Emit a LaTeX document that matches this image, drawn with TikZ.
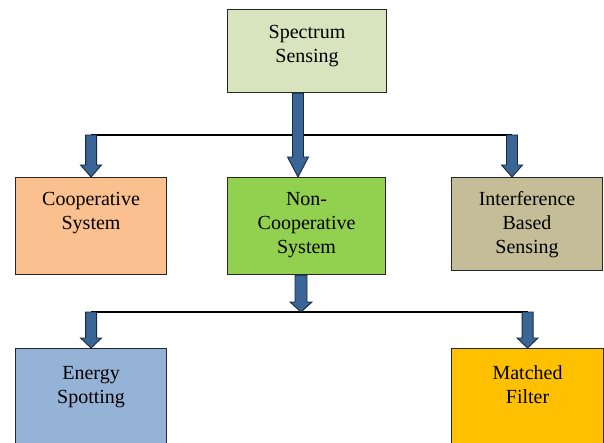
\documentclass[tikz,border=0pt]{standalone}
\usepackage{fontspec}
\setmainfont{Liberation Serif}
\usetikzlibrary{calc}
\definecolor{cSS}{HTML}{D7E4BD}
\definecolor{cCO}{HTML}{FAC090}
\definecolor{cNC}{HTML}{92D050}
\definecolor{cIB}{HTML}{C4BD97}
\definecolor{cES}{HTML}{95B3D7}
\definecolor{cMF}{HTML}{FFC000}
\definecolor{arrfill}{HTML}{3A6597}
\definecolor{arrline}{HTML}{1A2A3C}
\tikzset{
  box/.style={draw=black!85, line width=1.1pt, anchor=north west, inner sep=0pt},
  boxtext/.style={anchor=base, align=center, inner sep=0pt, font=\fontsize{20}{24}\selectfont},
  blockarr/.style={draw=arrline, fill=arrfill, line width=0.9pt, line join=miter},
  hline/.style={draw=black, line width=1.2pt}
}
\newcommand\blockarrow[5]{%
  \filldraw[blockarr] let \p1=(#1), \p2=(#2) in
    (\x1-#3,\y1) -- (\x1-#3,\y2+#5) -- (\x1-#4,\y2+#5) -- (\x2,\y2) --
    (\x1+#4,\y2+#5) -- (\x1+#3,\y2+#5) -- (\x1+#3,\y1) -- cycle;}
\begin{document}
\begin{tikzpicture}[x=1pt,y=-1pt]
\useasboundingbox (0,0) rectangle (604,443);
% boxes
\node[box, fill=cSS, minimum width=159pt, minimum height=83pt] (ss) at (227,9) {};
\node[box, fill=cCO, minimum width=151pt, minimum height=97pt] (co) at (15,177) {};
\node[box, fill=cNC, minimum width=158pt, minimum height=97pt] (nc) at (227,177) {};
\node[box, fill=cIB, minimum width=151pt, minimum height=93pt] (ib) at (451,177) {};
\node[box, fill=cES, minimum width=151pt, minimum height=105pt] (es) at (15,348) {};
\node[box, fill=cMF, minimum width=152pt, minimum height=105pt] (mf) at (451,348) {};
% texts (base = last line)
\node[boxtext] (tss) at ($(ss.north)+(0,54)$) {Spectrum\\Sensing};
\node[boxtext] (tco) at ($(co.north)+(0,53)$) {Cooperative\\System};
\node[boxtext] (tnc) at ($(nc.north)+(0,77)$) {Non-\\Cooperative\\System};
\node[boxtext] (tib) at ($(ib.north)+(0,77)$) {Interference\\Based\\Sensing};
\node[boxtext] (tes) at ($(es.north)+(0,55)$) {Energy\\Spotting};
\node[boxtext] (tmf) at ($(mf.north)+(0,55)$) {Matched\\Filter};
% junctions
\coordinate (j1) at (298,135);
\coordinate (k1) at (512,135);
\coordinate (j2) at (301,312);
% horizontal lines
\draw[hline] (co.north |- j1) -- (k1);
\draw[hline] (es.north |- j2) -- (mf.north |- j2);
% arrows
\blockarrow{ss.south -| j1}{nc.north -| j1}{5.5}{10.5}{20}
\blockarrow{co.north |- j1}{co.north}{5.5}{10.5}{12}
\blockarrow{k1}{ib.north -| k1}{5.5}{10.5}{12}
\blockarrow{nc.south -| j2}{j2}{6}{11}{10}
\blockarrow{es.north |- j2}{es.north}{5.5}{10.5}{10}
\blockarrow{mf.north |- j2}{mf.north}{5.5}{10.5}{10}
\end{tikzpicture}
\end{document}
